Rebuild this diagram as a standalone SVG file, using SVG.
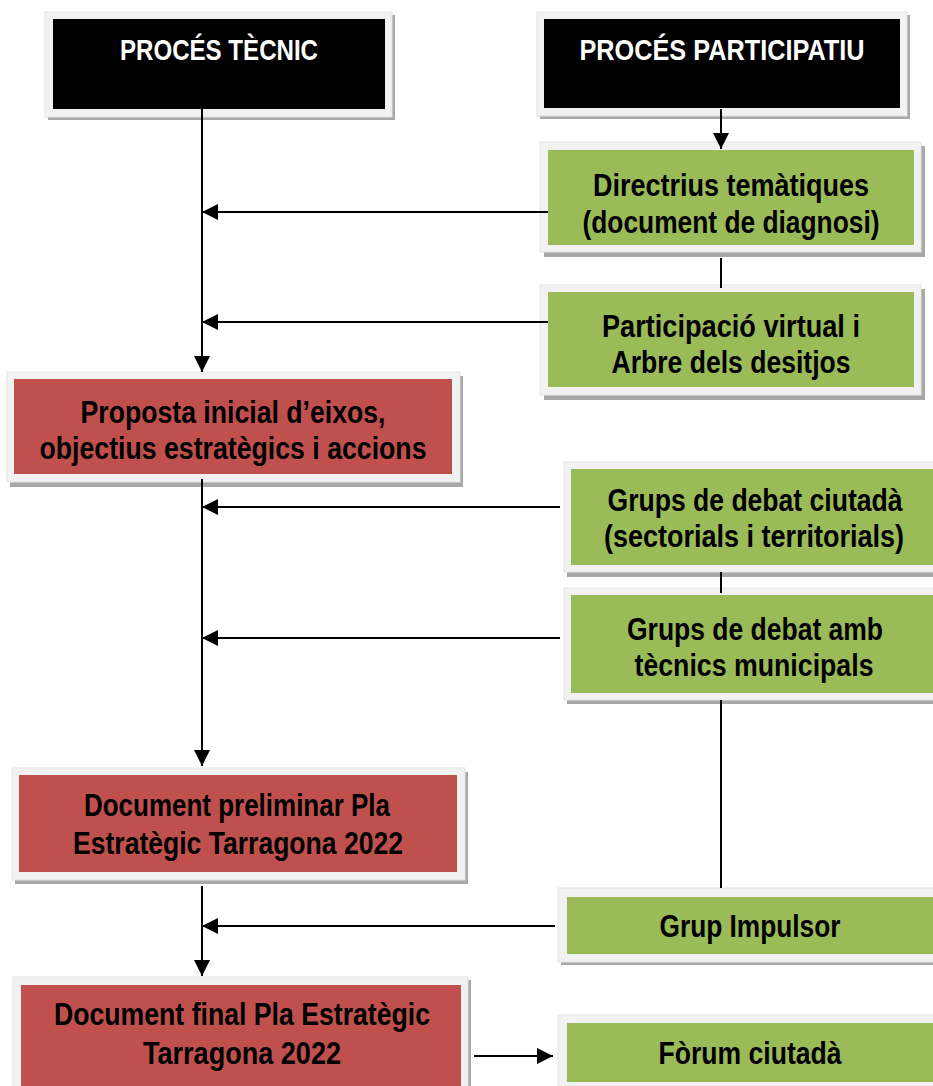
<svg xmlns="http://www.w3.org/2000/svg" width="933" height="1086" viewBox="0 0 933 1086">
<defs>
<style>
.sh{fill:#a8a8a8}
.fr{fill:#f2f2f2;stroke:#e4e4e4;stroke-width:1}
.blk{fill:#000}
.red{fill:#c0504d}
.grn{fill:#9bbb59}
text{font-family:"Liberation Sans",Arial,sans-serif;font-weight:bold;font-size:31px;text-anchor:middle}
.w{fill:#fff;font-size:30px}
.k{fill:#000}
.ln{stroke:#000;stroke-width:2;fill:none}
</style>
<marker id="ah" viewBox="0 0 16 16" refX="16" refY="8" markerWidth="16" markerHeight="16" markerUnits="userSpaceOnUse" orient="auto">
<path d="M0,0 L16,8 L0,16 z" fill="#000"/>
</marker>
</defs>
<rect width="933" height="1086" fill="#fff"/>

<g id="n-tecnic">
<rect class="sh" x="48" y="15" width="347" height="105"/>
<rect class="fr" x="45" y="12" width="347" height="105"/>
<rect class="blk" x="53" y="19" width="332" height="90"/>
<text class="w" x="219" y="60" textLength="198" lengthAdjust="spacingAndGlyphs">PROCÉS TÈCNIC</text>
</g>

<g id="n-participatiu">
<rect class="sh" x="540" y="15" width="370" height="104"/>
<rect class="fr" x="537" y="12" width="370" height="104"/>
<rect class="blk" x="544" y="19" width="356" height="89"/>
<text class="w" x="722" y="60" textLength="285" lengthAdjust="spacingAndGlyphs">PROCÉS PARTICIPATIU</text>
</g>

<g id="n-directrius">
<rect class="sh" x="544" y="146" width="381" height="111"/>
<rect class="fr" x="540" y="142" width="381" height="110"/>
<rect class="grn" x="548" y="150" width="366" height="95"/>
<text class="k" x="731" y="196" textLength="276" lengthAdjust="spacingAndGlyphs">Directrius temàtiques</text>
<text class="k" x="731" y="233" textLength="297" lengthAdjust="spacingAndGlyphs">(document de diagnosi)</text>
</g>

<g id="n-virtual">
<rect class="sh" x="544" y="289" width="381" height="111"/>
<rect class="fr" x="540" y="285" width="381" height="110"/>
<rect class="grn" x="548" y="292" width="366" height="95"/>
<text class="k" x="731" y="337" textLength="258" lengthAdjust="spacingAndGlyphs">Participació virtual i</text>
<text class="k" x="731" y="373" textLength="239" lengthAdjust="spacingAndGlyphs">Arbre dels desitjos</text>
</g>

<g id="n-proposta">
<rect class="sh" x="10" y="376" width="453" height="111"/>
<rect class="fr" x="7" y="372" width="453" height="110"/>
<rect class="red" x="14" y="379" width="438" height="95"/>
<text class="k" x="233" y="423" textLength="305" lengthAdjust="spacingAndGlyphs">Proposta inicial d’eixos,</text>
<text class="k" x="233" y="459" textLength="387" lengthAdjust="spacingAndGlyphs">objectius estratègics i accions</text>
</g>

<g id="n-ciutada">
<rect class="sh" x="567" y="466" width="370" height="111"/>
<rect class="fr" x="564" y="462" width="370" height="110"/>
<rect class="grn" x="571" y="469" width="362" height="96"/>
<text class="k" x="755" y="511" textLength="295" lengthAdjust="spacingAndGlyphs">Grups de debat ciutadà</text>
<text class="k" x="754" y="547" textLength="300" lengthAdjust="spacingAndGlyphs">(sectorials i territorials)</text>
</g>

<g id="n-tecnics">
<rect class="sh" x="567" y="592" width="370" height="112"/>
<rect class="fr" x="564" y="588" width="370" height="112"/>
<rect class="grn" x="571" y="595" width="362" height="98"/>
<text class="k" x="755" y="640" textLength="256" lengthAdjust="spacingAndGlyphs">Grups de debat amb</text>
<text class="k" x="754" y="676" textLength="239" lengthAdjust="spacingAndGlyphs">tècnics municipals</text>
</g>

<g id="n-preliminar">
<rect class="sh" x="15" y="772" width="453" height="112"/>
<rect class="fr" x="12" y="768" width="453" height="112"/>
<rect class="red" x="19" y="775" width="438" height="97"/>
<text class="k" x="237" y="816" textLength="306" lengthAdjust="spacingAndGlyphs">Document preliminar Pla</text>
<text class="k" x="238" y="854" textLength="330" lengthAdjust="spacingAndGlyphs">Estratègic Tarragona 2022</text>
</g>

<g id="n-impulsor">
<rect class="sh" x="561" y="892" width="376" height="73"/>
<rect class="fr" x="558" y="888" width="376" height="74"/>
<rect class="grn" x="567" y="897" width="366" height="57"/>
<text class="k" x="750" y="937" textLength="181" lengthAdjust="spacingAndGlyphs">Grup Impulsor</text>
</g>

<g id="n-final">
<rect class="sh" x="16" y="980" width="455" height="110"/>
<rect class="fr" x="13" y="977" width="455" height="110"/>
<rect class="red" x="21" y="985" width="440" height="101"/>
<text class="k" x="242" y="1025" textLength="376" lengthAdjust="spacingAndGlyphs">Document final Pla Estratègic</text>
<text class="k" x="242" y="1064" textLength="198" lengthAdjust="spacingAndGlyphs">Tarragona 2022</text>
</g>

<g id="n-forum">
<rect class="fr" x="558" y="1015" width="376" height="75"/>
<rect class="grn" x="567" y="1023" width="366" height="59"/>
<text class="k" x="750" y="1064" textLength="183" lengthAdjust="spacingAndGlyphs">Fòrum ciutadà</text>
</g>

<g id="connectors">
<path class="ln" d="M202,109 V372" marker-end="url(#ah)"/>
<path class="ln" d="M721,109 V149" marker-end="url(#ah)"/>
<path class="ln" d="M548,212 H202" marker-end="url(#ah)"/>
<path class="ln" d="M721,258 V288"/>
<path class="ln" d="M548,322 H202" marker-end="url(#ah)"/>
<path class="ln" d="M202,479 V766" marker-end="url(#ah)"/>
<path class="ln" d="M560,507 H202" marker-end="url(#ah)"/>
<path class="ln" d="M721,572 V593"/>
<path class="ln" d="M560,638 H202" marker-end="url(#ah)"/>
<path class="ln" d="M721,700 V888"/>
<path class="ln" d="M202,886 V976" marker-end="url(#ah)"/>
<path class="ln" d="M555,926 H202" marker-end="url(#ah)"/>
<path class="ln" d="M474,1056 H553" marker-end="url(#ah)"/>
</g>
</svg>
